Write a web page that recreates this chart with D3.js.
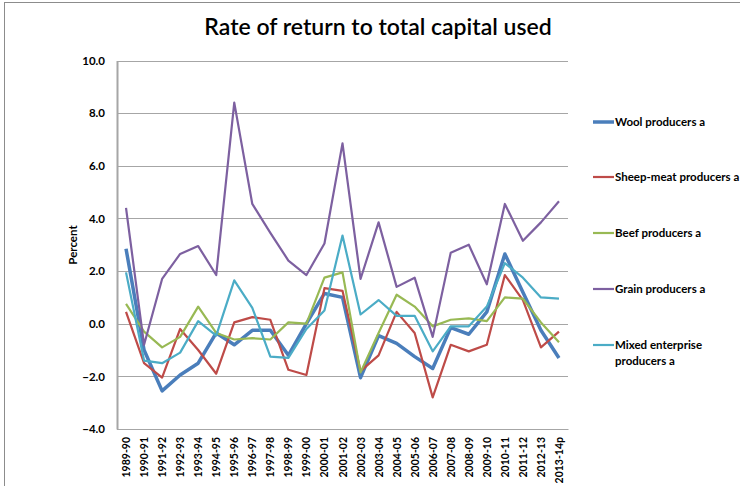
<!DOCTYPE html>
<html>
<head>
<meta charset="utf-8">
<script src="https://cdn.jsdelivr.net/npm/d3@7"></script>
<style>
  body { margin: 0; background: #fff; }
  svg { display: block; font-family: Lato, "Open Sans", sans-serif; }
</style>
</head>
<body>
<script>
const years = ["1989-90","1990-91","1991-92","1992-93","1993-94","1994-95","1995-96","1996-97",
  "1997-98","1998-99","1999-00","2000-01","2001-02","2002-03","2003-04","2004-05","2005-06",
  "2006-07","2007-08","2008-09","2009-10","2010-11","2011-12","2012-13","2013-14p"];

const wool = [2.85,-1.0,-2.55,-1.95,-1.5,-0.35,-0.8,-0.25,-0.25,-1.2,0.0,1.15,1.0,-2.05,-0.45,-0.75,-1.25,-1.7,-0.15,-0.4,0.45,2.65,1.2,-0.25,-1.3];
const sheep = [0.45,-1.5,-2.05,-0.2,-1.0,-1.9,0.05,0.25,0.15,-1.75,-1.95,1.35,1.25,-1.8,-1.2,0.45,-0.35,-2.8,-0.8,-1.05,-0.8,1.85,0.9,-0.9,-0.3];
const beef = [0.75,-0.3,-0.9,-0.5,0.65,-0.35,-0.6,-0.55,-0.6,0.05,0.0,1.75,1.95,-1.85,-0.35,1.1,0.65,-0.1,0.15,0.2,0.1,1.0,0.95,0.05,-0.7];
const grain = [4.4,-0.8,1.7,2.65,2.95,1.85,8.4,4.55,3.45,2.4,1.85,3.05,6.85,1.7,3.85,1.4,1.75,-0.5,2.7,3.0,1.5,4.55,3.15,3.85,4.65];
const mixed = [1.95,-1.4,-1.5,-1.1,0.1,-0.45,1.65,0.6,-1.25,-1.3,-0.2,0.5,3.35,0.35,0.9,0.3,0.3,-1.05,-0.1,-0.1,0.65,2.3,1.75,1.0,0.95];

const seriesNames = ["Wool producers a","Sheep-meat producers a","Beef producers a","Grain producers a","Mixed enterprise producers a"];
const seriesColors = ["#4a7ebb","#be4b48","#98b954","#7d60a0","#4bacc6"];
const yTicks = [-4,-2,0,2,4,6,8,10];

const series = [wool, sheep, beef, grain, mixed].map((v, i) => ({
  name: seriesNames[i], color: seriesColors[i], values: v
}));

const width = 740, height = 486;
const svg = d3.select("body").append("svg").attr("width", width).attr("height", height);

// chart border
svg.append("rect")
  .attr("x", 4.5).attr("y", 2.5)
  .attr("width", width + 10).attr("height", height + 10)
  .attr("fill", "none").attr("stroke", "#8c8c8c");

const plot = { left: 117, right: 568, top: 60.5, bottom: 429 };

const x = d3.scaleBand().domain(years).range([plot.left, plot.right]);
const y = d3.scaleLinear().domain([-4, 10]).range([plot.bottom, plot.top]);

// title
svg.append("text")
  .attr("x", 378).attr("y", 35)
  .attr("text-anchor", "middle")
  .attr("font-size", 23).attr("font-weight", 600)
  .attr("fill", "#000")
  .text("Rate of return to total capital used");

// gridlines
svg.append("g")
  .selectAll("line")
  .data(yTicks)
  .join("line")
  .attr("x1", plot.left).attr("x2", plot.right)
  .attr("y1", d => Math.round(y(d)) + 0.5).attr("y2", d => Math.round(y(d)) + 0.5)
  .attr("stroke", "#a6a6a6").attr("stroke-width", 1);

// y axis
const yAxis = d3.axisLeft(y).tickValues(yTicks).tickFormat(d3.format(".1f")).tickSize(0).tickPadding(12);
const gy = svg.append("g").attr("transform", `translate(${plot.left},0)`).call(yAxis);
gy.select(".domain").attr("stroke", "#a6a6a6").attr("stroke-width", 2);
gy.selectAll("text").attr("font-size", 11.5).attr("font-weight", "bold").attr("fill", "#000")
  .attr("font-family", "Lato, sans-serif");

// x axis
const xAxis = d3.axisBottom(x).tickSize(0).tickPadding(0);
const gx = svg.append("g").attr("transform", `translate(0,${plot.bottom})`).call(xAxis);
gx.select(".domain").attr("stroke", "#a6a6a6");
gx.selectAll("text")
  .attr("font-size", 10.5).attr("font-weight", "bold").attr("fill", "#000")
  .attr("font-family", "Lato, sans-serif")
  .attr("text-anchor", "end")
  .attr("dy", null)
  .attr("transform", "translate(4,8) rotate(-90)");

// y label
svg.append("text")
  .attr("transform", "translate(77,245) rotate(-90)")
  .attr("text-anchor", "middle")
  .attr("font-size", 11.5).attr("font-weight", "bold")
  .text("Percent");

// lines
const line = d3.line()
  .x((d, i) => x(years[i]) + x.bandwidth() / 2)
  .y(d => y(d));

svg.append("g")
  .selectAll("path")
  .data(series)
  .join("path")
  .attr("d", d => line(d.values))
  .attr("fill", "none")
  .attr("stroke", d => d.color)
  .attr("stroke-width", (d, i) => i === 0 ? 3.5 : 2.2)
  .attr("stroke-linejoin", "round");

// legend
const legendY = [122, 177, 233, 289, 345];
const legend = svg.append("g")
  .selectAll("g")
  .data(series)
  .join("g")
  .attr("transform", (d, i) => `translate(593,${legendY[i]})`);

legend.append("line")
  .attr("x1", 0).attr("x2", 21)
  .attr("stroke", d => d.color)
  .attr("stroke-width", (d, i) => i === 0 ? 3.5 : 2.2);

legend.append("text")
  .attr("x", 22).attr("y", 4)
  .attr("font-size", 11.5).attr("font-weight", "bold")
  .each(function (d) {
    const t = d3.select(this);
    const parts = d.name === "Mixed enterprise producers a" ? ["Mixed enterprise", "producers a"] : [d.name];
    parts.forEach((p, k) => t.append("tspan").attr("x", 22).attr("dy", k === 0 ? 0 : 16).text(p));
  });
</script>
</body>
</html>
